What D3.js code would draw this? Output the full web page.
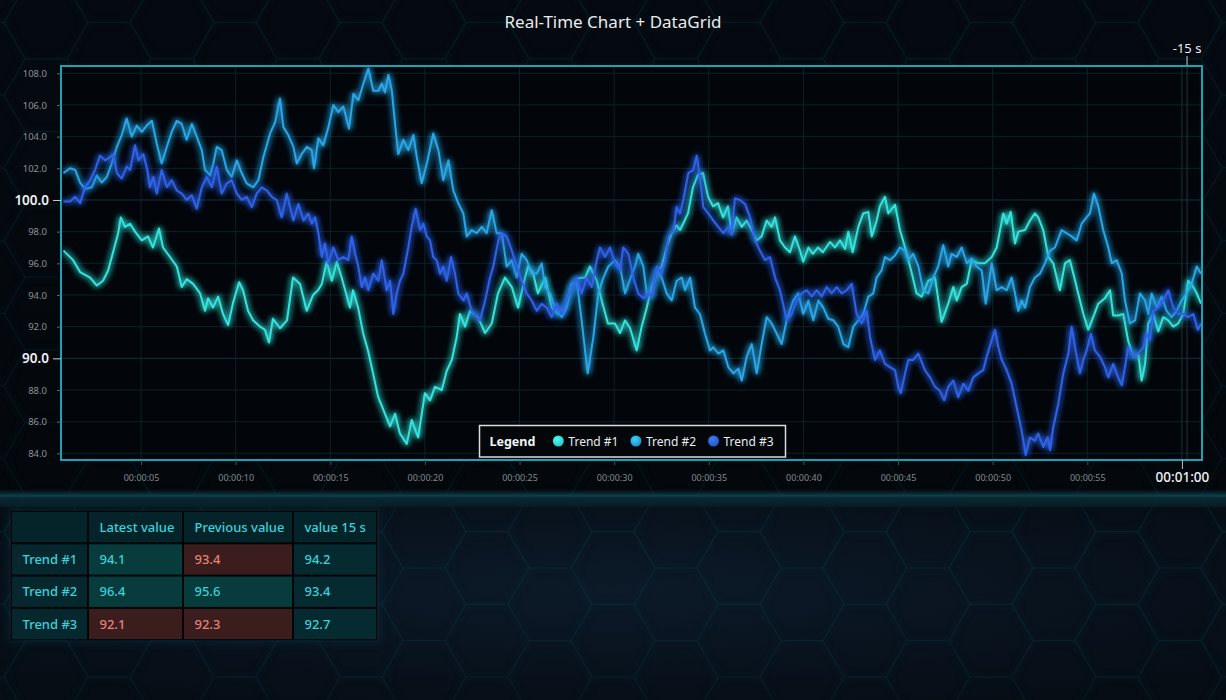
<!DOCTYPE html>
<html><head><meta charset="utf-8">
<script src="https://cdn.jsdelivr.net/npm/d3@7"></script>
<style>
html,body{margin:0;padding:0;background:#04080d;overflow:hidden;}
svg{display:block;font-family:"Noto Sans",sans-serif;}
</style></head><body>
<svg id="c" width="1226" height="700"></svg>
<script>
// ---------------- DATA ----------------
const chartTitle = "Real-Time Chart + DataGrid";
const seriesNames = ["Trend #1", "Trend #2", "Trend #3"];
const seriesColors = ["#36e3dd", "#2aa5e6", "#2f62e8"];
// [seconds, value]
const trend1 = [[0.90,96.8],[1.41,96.2],[1.78,95.45],[2.31,95.1],[2.66,94.6],[2.99,94.9],[3.26,95.55],[3.52,96.7],[3.79,97.9],[3.93,98.9],[4.15,98.3],[4.42,98.5],[4.68,98.0],[5.04,97.45],[5.37,97.7],[5.63,97.0],[5.95,98.2],[6.16,97.0],[6.53,96.4],[6.89,95.8],[7.15,94.5],[7.41,95.0],[7.75,94.7],[8.12,94.1],[8.38,93.0],[8.54,93.8],[8.80,93.2],[9.07,93.9],[9.33,92.8],[9.60,92.1],[9.86,93.5],[10.18,94.8],[10.39,94.3],[10.65,93.0],[10.92,92.4],[11.29,92.0],[11.55,91.8],[11.76,91.0],[11.97,92.5],[12.34,91.9],[12.71,92.4],[13.03,95.1],[13.40,94.7],[13.75,93.0],[14.09,94.0],[14.35,94.3],[14.55,94.7],[14.81,96.1],[15.08,94.9],[15.34,96.1],[15.60,95.1],[16.04,93.2],[16.20,94.3],[16.47,93.2],[16.73,91.6],[16.99,90.5],[17.26,89.05],[17.52,87.6],[17.89,86.5],[18.16,85.7],[18.42,86.5],[18.68,85.25],[19.04,84.6],[19.30,86.1],[19.64,85.0],[20.00,87.8],[20.27,87.35],[20.53,88.2],[20.89,88.0],[21.15,89.2],[21.42,89.9],[21.68,91.35],[21.85,92.8],[22.12,92.0],[22.38,93.0],[22.80,92.6],[23.18,91.6],[23.53,92.2],[23.86,94.1],[24.23,95.1],[24.59,94.5],[24.92,93.2],[25.29,95.1],[25.45,95.8],[25.71,95.4],[25.97,94.1],[26.35,95.1],[26.70,93.2],[27.03,92.8],[27.40,93.2],[27.76,94.7],[28.09,95.05],[28.46,95.1],[28.72,95.8],[29.08,94.9],[29.34,93.65],[29.67,92.2],[30.04,92.2],[30.31,91.6],[30.57,92.4],[30.84,91.9],[31.19,90.5],[31.45,92.0],[31.72,93.2],[31.98,94.5],[32.25,95.4],[32.51,95.8],[32.77,97.0],[33.04,97.9],[33.30,98.4],[33.48,98.1],[33.64,98.5],[33.90,99.15],[34.16,100.8],[34.43,101.6],[34.69,101.7],[34.96,100.2],[35.22,99.6],[35.49,99.8],[35.75,98.9],[36.01,99.6],[36.21,97.9],[36.47,98.9],[36.74,98.3],[37.00,98.7],[37.27,98.1],[37.53,97.45],[37.79,97.7],[38.06,98.7],[38.32,98.3],[38.50,98.9],[38.76,97.45],[39.03,97.0],[39.29,96.7],[39.55,97.7],[39.82,96.8],[39.99,96.1],[40.26,97.0],[40.50,96.6],[40.77,97.0],[41.03,96.7],[41.40,97.35],[41.67,97.0],[41.93,97.45],[42.20,96.9],[42.37,98.0],[42.60,96.7],[42.90,98.3],[43.16,99.15],[43.43,99.25],[43.61,97.7],[43.87,98.7],[44.04,99.6],[44.31,100.2],[44.48,99.15],[44.84,99.7],[45.10,98.1],[45.37,97.0],[45.72,95.4],[45.98,94.1],[46.25,93.9],[46.60,94.9],[46.95,95.1],[47.30,92.3],[47.65,93.45],[47.92,94.5],[48.10,93.65],[48.36,94.5],[48.63,94.7],[48.89,96.2],[49.24,96.0],[49.59,96.0],[49.95,96.4],[50.21,97.0],[50.56,99.15],[50.74,98.5],[50.95,99.25],[51.18,97.25],[51.35,98.0],[51.71,98.1],[51.97,98.7],[52.23,99.15],[52.41,98.9],[52.67,98.1],[52.94,96.4],[53.20,96.0],[53.55,94.3],[53.82,96.0],[54.08,96.2],[54.26,95.35],[54.52,94.1],[54.79,92.8],[55.05,91.8],[55.31,92.6],[55.58,93.45],[55.93,93.8],[56.20,94.3],[56.37,92.7],[56.63,92.7],[56.90,92.8],[57.16,91.1],[57.43,90.1],[57.69,90.3],[57.87,88.6],[58.05,89.65],[58.22,92.2],[58.48,92.8],[58.75,91.7],[59.01,92.6],[59.28,92.4],[59.54,92.0],[59.80,92.2],[60.07,92.8],[60.33,94.9],[60.60,94.5],[60.78,94.1],[61.01,93.45]];
const trend2 = [[0.90,101.7],[1.25,102.0],[1.52,101.9],[1.78,101.1],[2.04,100.7],[2.40,100.8],[2.66,101.55],[2.92,101.1],[3.19,101.45],[3.45,102.3],[3.72,103.35],[3.98,104.1],[4.24,105.15],[4.51,104.0],[4.77,104.7],[5.04,104.3],[5.30,104.7],[5.57,105.0],[5.83,103.55],[6.09,102.3],[6.36,103.35],[6.62,104.3],[6.89,105.0],[7.15,104.8],[7.41,103.8],[7.68,104.8],[7.94,104.0],[8.21,103.15],[8.38,101.9],[8.65,101.55],[8.82,102.3],[9.00,103.35],[9.26,103.15],[9.53,101.9],[9.79,101.45],[10.06,102.5],[10.32,101.7],[10.58,101.05],[10.93,100.8],[11.20,101.25],[11.46,102.7],[11.82,104.2],[12.08,104.9],[12.34,106.4],[12.52,104.6],[12.78,104.1],[13.05,103.35],[13.23,102.3],[13.49,102.9],[13.76,103.35],[14.02,103.15],[14.14,102.0],[14.37,103.9],[14.63,103.45],[14.90,104.6],[15.16,106.0],[15.42,105.55],[15.69,105.9],[15.99,104.5],[16.22,106.7],[16.48,106.3],[16.75,107.35],[17.01,108.3],[17.27,106.9],[17.54,106.9],[17.72,107.35],[17.89,106.8],[18.07,107.9],[18.25,106.9],[18.42,104.8],[18.59,102.9],[18.86,103.8],[19.12,103.15],[19.39,104.1],[19.57,102.7],[19.83,101.05],[20.10,102.3],[20.44,104.2],[20.71,103.15],[20.97,101.25],[21.24,102.5],[21.50,100.6],[21.76,99.8],[22.03,99.15],[22.21,97.7],[22.47,98.1],[22.74,97.9],[23.00,98.3],[23.26,97.9],[23.53,99.35],[23.79,97.9],[24.06,97.9],[24.32,95.8],[24.59,96.2],[24.85,95.1],[25.11,96.6],[25.38,96.2],[25.64,95.35],[25.91,95.35],[26.17,96.0],[26.35,94.5],[26.61,94.1],[26.87,93.2],[27.23,92.6],[27.49,93.2],[27.76,94.5],[28.02,94.9],[28.28,92.4],[28.60,89.05],[28.90,91.35],[29.16,94.1],[29.43,95.1],[29.69,95.8],[30.04,96.2],[30.31,95.8],[30.57,94.1],[30.84,95.0],[31.10,95.8],[31.27,96.6],[31.54,95.8],[31.72,94.1],[31.98,93.9],[32.25,95.55],[32.51,95.1],[32.77,94.1],[33.04,93.65],[33.30,94.9],[33.57,95.1],[33.74,94.3],[34.01,95.1],[34.27,93.2],[34.53,92.8],[34.80,91.55],[35.06,90.5],[35.24,90.7],[35.50,90.3],[35.77,90.5],[36.03,89.45],[36.30,89.05],[36.56,89.35],[36.74,88.6],[37.00,90.1],[37.27,90.9],[37.53,89.05],[37.79,90.9],[38.06,92.6],[38.32,92.2],[38.59,91.55],[38.85,90.9],[39.11,92.4],[39.46,93.65],[39.73,94.1],[39.99,92.8],[40.26,93.65],[40.52,92.4],[40.79,93.65],[41.05,93.2],[41.31,92.5],[41.58,92.4],[41.84,92.0],[42.11,90.9],[42.37,90.7],[42.63,92.0],[42.90,92.4],[43.16,92.8],[43.43,93.9],[43.69,94.1],[43.87,95.1],[44.13,95.55],[44.31,96.4],[44.57,96.2],[44.84,96.5],[45.10,97.0],[45.37,96.8],[45.54,96.2],[45.80,96.6],[46.07,95.8],[46.33,94.3],[46.60,94.1],[46.86,95.1],[47.12,95.8],[47.39,97.15],[47.65,95.8],[47.83,96.6],[48.10,96.4],[48.36,97.0],[48.63,96.0],[48.89,96.3],[49.15,95.8],[49.42,95.55],[49.63,93.45],[49.95,96.0],[50.21,94.3],[50.48,94.5],[50.74,94.3],[51.00,95.1],[51.18,94.1],[51.35,93.0],[51.53,93.65],[51.71,93.2],[51.97,94.5],[52.23,95.1],[52.50,95.35],[52.76,96.0],[53.03,96.8],[53.29,97.0],[53.64,98.1],[53.91,97.9],[54.17,97.7],[54.44,97.45],[54.70,98.5],[54.96,98.9],[55.14,99.15],[55.35,100.4],[55.58,99.6],[55.84,98.1],[56.11,97.0],[56.29,96.0],[56.55,96.2],[56.82,95.35],[56.99,93.65],[57.25,92.2],[57.52,92.4],[57.78,94.1],[58.05,93.65],[58.22,92.8],[58.40,94.1],[58.66,93.2],[58.93,93.9],[59.19,93.0],[59.46,92.6],[59.72,93.0],[59.98,93.65],[60.25,94.1],[60.51,94.7],[60.78,95.8],[61.01,95.35]];
const trend3 = [[0.90,99.9],[1.25,99.9],[1.52,100.2],[1.78,99.8],[2.04,100.8],[2.31,101.25],[2.57,101.9],[2.83,102.8],[3.10,102.5],[3.36,102.7],[3.54,102.9],[3.72,101.7],[3.98,101.35],[4.24,102.1],[4.42,101.9],[4.68,103.45],[4.86,102.5],[5.12,102.9],[5.33,101.9],[5.47,100.8],[5.65,101.45],[5.83,100.4],[6.09,101.9],[6.36,100.8],[6.62,101.25],[6.89,100.6],[7.15,100.4],[7.41,100.0],[7.68,100.3],[7.94,99.45],[8.21,100.8],[8.47,101.45],[8.74,100.8],[9.00,102.1],[9.26,100.4],[9.53,101.05],[9.79,101.25],[10.06,100.4],[10.32,100.0],[10.58,100.2],[10.85,99.55],[11.11,100.4],[11.38,100.8],[11.64,100.6],[11.91,100.2],[12.17,100.0],[12.43,98.9],[12.70,100.4],[12.87,99.55],[13.05,98.7],[13.31,99.75],[13.58,98.7],[13.84,99.15],[14.02,98.5],[14.20,98.9],[14.37,97.9],[14.55,96.4],[14.72,97.25],[14.90,96.0],[15.16,97.0],[15.42,96.2],[15.69,96.4],[15.95,96.2],[16.13,97.7],[16.31,96.6],[16.48,95.8],[16.66,94.5],[16.84,95.1],[17.01,94.3],[17.27,95.35],[17.54,94.9],[17.72,96.2],[17.98,94.3],[18.16,94.9],[18.33,92.8],[18.51,94.1],[18.68,94.9],[18.86,95.35],[19.12,97.0],[19.30,98.3],[19.51,99.45],[19.74,98.1],[19.92,98.5],[20.10,97.7],[20.27,97.45],[20.44,96.4],[20.62,96.2],[20.80,95.35],[20.97,95.8],[21.15,94.9],[21.38,96.4],[21.59,95.35],[21.76,94.1],[22.03,93.65],[22.21,94.1],[22.47,93.0],[22.74,92.6],[22.91,92.4],[23.18,93.65],[23.44,95.1],[23.61,95.8],[23.88,97.45],[24.06,97.9],[24.32,97.7],[24.59,96.8],[24.85,95.8],[25.11,94.9],[25.38,94.1],[25.64,93.65],[25.91,93.0],[26.17,93.45],[26.43,93.2],[26.70,92.6],[26.96,93.45],[27.23,92.8],[27.49,93.65],[27.76,94.5],[28.02,95.1],[28.28,94.1],[28.55,95.1],[28.81,94.5],[29.08,96.2],[29.25,97.0],[29.52,96.4],[29.78,97.0],[30.04,96.0],[30.31,95.55],[30.48,97.0],[30.75,96.6],[31.01,95.1],[31.27,94.1],[31.54,93.8],[31.81,94.1],[31.98,93.9],[32.25,95.8],[32.51,95.35],[32.69,96.2],[32.87,97.7],[33.13,98.1],[33.30,99.55],[33.48,99.15],[33.65,100.0],[33.92,101.7],[34.18,101.9],[34.36,102.8],[34.53,101.45],[34.71,99.55],[34.97,99.15],[35.24,98.7],[35.50,98.3],[35.77,97.9],[36.03,98.3],[36.21,97.8],[36.38,100.1],[36.65,100.0],[36.91,99.75],[37.18,98.9],[37.44,97.45],[37.70,96.8],[37.97,96.2],[38.23,96.4],[38.50,95.1],[38.76,94.3],[38.97,93.2],[39.11,92.4],[39.38,92.8],[39.64,93.65],[39.91,94.1],[40.17,94.3],[40.44,93.9],[40.70,94.3],[40.97,93.9],[41.23,94.5],[41.49,94.1],[41.76,94.5],[42.02,94.1],[42.29,94.3],[42.55,94.7],[42.81,92.8],[43.08,92.2],[43.34,93.0],[43.52,91.35],[43.78,89.9],[44.04,90.5],[44.31,89.65],[44.57,89.45],[44.84,89.25],[45.01,88.2],[45.14,87.8],[45.37,89.05],[45.54,89.9],[45.80,89.9],[46.07,90.3],[46.42,89.25],[46.69,88.8],[46.95,88.2],[47.21,87.95],[47.44,87.35],[47.65,88.2],[47.92,88.6],[48.18,87.55],[48.45,88.4],[48.71,87.95],[48.97,88.8],[49.24,89.05],[49.50,89.25],[49.68,90.1],[49.95,91.15],[50.12,91.8],[50.30,90.7],[50.48,89.9],[50.74,89.25],[51.00,88.4],[51.27,86.9],[51.53,85.45],[51.74,83.9],[51.97,85.0],[52.23,84.8],[52.41,85.25],[52.67,84.4],[52.90,85.0],[53.03,84.2],[53.20,85.65],[53.47,87.15],[53.73,89.05],[54.00,90.3],[54.17,92.0],[54.35,90.7],[54.61,89.05],[54.79,89.9],[54.96,90.5],[55.19,91.55],[55.40,90.5],[55.67,90.1],[55.93,89.45],[56.11,88.8],[56.37,89.65],[56.63,88.8],[56.82,88.3],[56.99,89.45],[57.16,90.7],[57.43,90.1],[57.69,90.3],[57.96,90.7],[58.13,91.55],[58.31,91.15],[58.48,93.0],[58.75,93.2],[59.01,93.65],[59.28,94.3],[59.54,93.2],[59.80,92.8],[60.07,92.8],[60.33,92.6],[60.60,92.8],[60.84,91.8],[61.01,92.2]];

const xDomain = [0.77, 61.06];          // seconds visible
const yDomain = [83.58, 108.46];
const yTickValues = [84,86,88,90,92,94,96,98,100,102,104,106,108];
const yMajorTicks = [90, 100];
const xTickValues = [5,10,15,20,25,30,35,40,45,50,55,60];
const xMajorTicks = [60];
const markerTime = 60.27;
const markerLabel = "-15 s";

const tableHeaders = ["", "Latest value", "Previous value", "value 15 s"];
const latestValues = [94.1, 96.4, 92.1];
const previousValues = [93.4, 95.6, 92.3];
const value15s = [94.2, 93.4, 92.7];
const latestUp = [true, true, false];
const previousUp = [false, true, false];

// ---------------- DRAW ----------------
const W = 1226, H = 700;
const svg = d3.select("#c");
const defs = svg.append("defs");

// background gradients
const bgTop = defs.append("linearGradient").attr("id","bgTop").attr("x1",0).attr("y1",0).attr("x2",0).attr("y2",1);
bgTop.append("stop").attr("offset","0%").attr("stop-color","#050a10");
bgTop.append("stop").attr("offset","100%").attr("stop-color","#03070b");
const bgBot = defs.append("radialGradient").attr("id","bgBot").attr("cx","50%").attr("cy","45%").attr("r","65%");
bgBot.append("stop").attr("offset","0%").attr("stop-color","#0c1a29");
bgBot.append("stop").attr("offset","100%").attr("stop-color","#060d15");
const band = defs.append("linearGradient").attr("id","band").attr("x1",0).attr("y1",0).attr("x2",0).attr("y2",1);
band.append("stop").attr("offset","0%").attr("stop-color","#0a2a33").attr("stop-opacity",0);
band.append("stop").attr("offset","30%").attr("stop-color","#0e3c47").attr("stop-opacity",0.9);
band.append("stop").attr("offset","45%").attr("stop-color","#0a2c36").attr("stop-opacity",0.9);
band.append("stop").attr("offset","85%").attr("stop-color","#082129").attr("stop-opacity",0.8);
band.append("stop").attr("offset","100%").attr("stop-color","#061018").attr("stop-opacity",0);

const glow = defs.append("filter").attr("id","glow").attr("x","-5%").attr("y","-5%").attr("width","110%").attr("height","110%");
glow.append("feGaussianBlur").attr("in","SourceGraphic").attr("stdDeviation",3).attr("result","b");
const gm = glow.append("feMerge");
gm.append("feMergeNode").attr("in","b");
gm.append("feMergeNode").attr("in","b");
gm.append("feMergeNode").attr("in","SourceGraphic");

const softGlow = defs.append("filter").attr("id","soft").attr("x","-20%").attr("y","-20%").attr("width","140%").attr("height","140%");
softGlow.append("feGaussianBlur").attr("stdDeviation",4);

svg.append("rect").attr("width",W).attr("height",H).attr("fill","url(#bgTop)");
svg.append("rect").attr("y",500).attr("width",W).attr("height",H-500).attr("fill","url(#bgBot)");

// hexagon pattern
const hs = 42, hh = hs*Math.sqrt(3);
let hexD = "";
for (let k=-12;k<=10;k++){
  for (let j=-9;j<=3;j++){
    const cx = 613 + 1.5*hs*k;
    const cy = 568 + hh*j + (Math.abs(k)%2===1 ? -hh/2 : 0);
    const pts = d3.range(6).map(i=>[cx+hs*Math.cos(i*Math.PI/3), cy+hs*Math.sin(i*Math.PI/3)]);
    hexD += "M"+pts.map(p=>p[0].toFixed(1)+","+p[1].toFixed(1)).join("L")+"Z";
  }
}
const hexMaskGrad = defs.append("linearGradient").attr("id","hexFade").attr("x1",0).attr("y1",0).attr("x2",0).attr("y2",1);
hexMaskGrad.append("stop").attr("offset","0%").attr("stop-color","#fff").attr("stop-opacity",0.45);
hexMaskGrad.append("stop").attr("offset","68%").attr("stop-color","#fff").attr("stop-opacity",0.3);
hexMaskGrad.append("stop").attr("offset","78%").attr("stop-color","#fff").attr("stop-opacity",0.6);
hexMaskGrad.append("stop").attr("offset","100%").attr("stop-color","#fff").attr("stop-opacity",0.35);
const hexMask = defs.append("mask").attr("id","hexMask");
hexMask.append("rect").attr("width",W).attr("height",H).attr("fill","url(#hexFade)");
const hexG = svg.append("g").attr("mask","url(#hexMask)");
hexG.append("path").attr("d",hexD).attr("fill","none").attr("stroke","#12424f").attr("stroke-width",1.2).attr("opacity",0.6);
hexG.append("path").attr("d",hexD).attr("fill","none").attr("stroke","#0f3a46").attr("stroke-width",4).attr("opacity",0.2).attr("filter","url(#soft)");

// separator band
svg.append("rect").attr("x",0).attr("y",489).attr("width",W).attr("height",20).attr("fill","url(#band)");
svg.append("line").attr("x1",0).attr("x2",W).attr("y1",496).attr("y2",496).attr("stroke","#12505c").attr("stroke-width",1.2).attr("opacity",0.7);

// title
svg.append("text").attr("x",613).attr("y",28).attr("text-anchor","middle")
  .attr("fill","#e6ecef").attr("font-size",17).text(chartTitle);

// plot area
const PL = 61, PR = 1202, PT = 66, PB = 460;
const x = d3.scaleLinear().domain(xDomain).range([PL, PR]);
const y = d3.scaleLinear().domain(yDomain).range([PB, PT]);

svg.append("rect").attr("x",PL).attr("y",PT).attr("width",PR-PL).attr("height",PB-PT).attr("fill","#020509");

// grid
const grid = svg.append("g");
grid.selectAll("line.h").data(yTickValues).join("line")
  .attr("x1",PL).attr("x2",PR).attr("y1",d=>y(d)).attr("y2",d=>y(d))
  .attr("stroke",d=>yMajorTicks.includes(d)?"#173038":"#0e2127").attr("stroke-width",1);
grid.selectAll("line.v").data(xTickValues).join("line")
  .attr("y1",PT).attr("y2",PB).attr("x1",d=>x(d)).attr("x2",d=>x(d))
  .attr("stroke",d=>xMajorTicks.includes(d)?"#1c3036":"#0e2127").attr("stroke-width",1);
// marker line
svg.append("line").attr("x1",x(markerTime)).attr("x2",x(markerTime)).attr("y1",PT).attr("y2",PB)
  .attr("stroke","#24363c").attr("stroke-width",1);

// series
const clip = defs.append("clipPath").attr("id","plotClip");
clip.append("rect").attr("x",PL).attr("y",PT).attr("width",PR-PL).attr("height",PB-PT);
const line = d3.line().x(d=>x(d[0])).y(d=>y(d[1]));
const gLines = svg.append("g").attr("clip-path","url(#plotClip)");
[trend1, trend2, trend3].forEach((data,i)=>{
  gLines.append("path").datum(data).attr("d",line).attr("fill","none")
    .attr("stroke",seriesColors[i]).attr("stroke-width",2).attr("stroke-linejoin","round")
    .attr("filter","url(#glow)");
});

// frame
svg.append("rect").attr("x",PL).attr("y",PT).attr("width",PR-PL).attr("height",PB-PT)
  .attr("fill","none").attr("stroke","#17a4b6").attr("stroke-width",2);

// y axis
const yAxis = svg.append("g").attr("transform",`translate(${PL},0)`)
  .call(d3.axisLeft(y).tickValues(yTickValues).tickFormat(d3.format(".1f")).tickSize(4).tickPadding(10));
yAxis.select(".domain").remove();
yAxis.selectAll(".tick line").attr("stroke","#5d6b70");
yAxis.selectAll(".tick text").attr("fill","#8a9396").attr("font-size",9.5).attr("font-family","Noto Sans");
yAxis.selectAll(".tick").filter(d=>yMajorTicks.includes(d)).each(function(){
  const t = d3.select(this);
  t.select("line").attr("x2",-8).attr("stroke","#c8d0d3");
  t.select("text").attr("x",-12).attr("fill","#eef2f4").attr("font-size",13.5).attr("font-weight",600);
});

// x axis
const fmtTime = s => { const h=Math.floor(s/3600), m=Math.floor(s/60)%60, sec=Math.round(s%60);
  return [h,m,sec].map(v=>String(v).padStart(2,"0")).join(":"); };
const xAxis = svg.append("g").attr("transform",`translate(0,${PB})`)
  .call(d3.axisBottom(x).tickValues(xTickValues).tickFormat(fmtTime).tickSize(5).tickPadding(10));
xAxis.select(".domain").remove();
xAxis.selectAll(".tick line").attr("stroke","#3f5258");
xAxis.selectAll(".tick text").attr("fill","#7f898c").attr("font-size",9).attr("font-family","Noto Sans");
xAxis.selectAll(".tick").filter(d=>xMajorTicks.includes(d)).each(function(){
  const t = d3.select(this);
  t.select("line").attr("y2",9).attr("stroke","#b9c3c6");
  t.select("text").attr("y",12).attr("fill","#eef2f4").attr("font-size",13.5).attr("font-weight",500);
});

// -15 s marker label
svg.append("line").attr("x1",x(markerTime)).attr("x2",x(markerTime)).attr("y1",56).attr("y2",PT-1)
  .attr("stroke","#c9d1d4").attr("stroke-width",1);
svg.append("text").attr("x",x(markerTime)).attr("y",53).attr("text-anchor","middle")
  .attr("fill","#e6ecef").attr("font-size",13).text(markerLabel);

// legend
const lg = svg.append("g");
lg.append("rect").attr("x",479.5).attr("y",425.5).attr("width",306).attr("height",31.5)
  .attr("fill","#03070a").attr("stroke","#d7dde0").attr("stroke-width",1.5);
let lx = 489.5;
const lt = lg.append("text").attr("x",lx).attr("y",445.5).attr("fill","#f2f5f6").attr("font-size",12.5)
  .attr("font-weight",700).text("Legend");
lx += lt.node().getComputedTextLength() + 23;
seriesNames.forEach((n,i)=>{
  const gr = defs.append("radialGradient").attr("id","lgGrad"+i).attr("cx","40%").attr("cy","35%").attr("r","65%");
  gr.append("stop").attr("offset","0%").attr("stop-color",d3.color(seriesColors[i]).brighter(0.7));
  gr.append("stop").attr("offset","100%").attr("stop-color",d3.color(seriesColors[i]).darker(0.4));
  lg.append("circle").attr("cx",lx).attr("cy",441).attr("r",5.5).attr("fill",`url(#lgGrad${i})`);
  const tx = lg.append("text").attr("x",lx+10).attr("y",445.5).attr("fill","#e6ecef").attr("font-size",12).text(n);
  lx += 10 + tx.node().getComputedTextLength() + 17.5;
});

// data grid
const colW = [77, 95, 110, 84];
const colX = [11];
colW.forEach((w,i)=>colX.push(colX[i]+w));
const rowH = 32.3, tY = 511;
const gt = svg.append("g");
gt.append("rect").attr("x",colX[0]-3).attr("y",tY-3).attr("width",colX[4]-colX[0]+6).attr("height",rowH*4+6)
  .attr("fill","#0f3a46").attr("opacity",0.35).attr("filter","url(#soft)");
gt.append("rect").attr("x",colX[0]).attr("y",tY).attr("width",colX[4]-colX[0]).attr("height",rowH*4)
  .attr("fill","#010507");
const cells = [];
tableHeaders.forEach((h,c)=>cells.push({r:0,c,text:h,kind:"head"}));
seriesNames.forEach((n,r)=>{
  cells.push({r:r+1,c:0,text:n,kind:"name"});
  cells.push({r:r+1,c:1,text:latestValues[r].toFixed(1),kind:latestUp[r]?"up":"down"});
  cells.push({r:r+1,c:2,text:previousValues[r].toFixed(1),kind:previousUp[r]?"up":"down"});
  cells.push({r:r+1,c:3,text:value15s[r].toFixed(1),kind:"plain"});
});
const fillFor = {head:"#05242a", name:"#05272d", plain:"#052a30", up:"#083b3b", down:"#3a1d1c"};
const cg = gt.selectAll("g.cell").data(cells).join("g");
cg.append("rect").attr("x",d=>colX[d.c]+1).attr("y",d=>tY+d.r*rowH+1)
  .attr("width",d=>colW[d.c]-2).attr("height",rowH-2).attr("fill",d=>fillFor[d.kind]);
cg.append("text").attr("x",d=>colX[d.c]+11.5).attr("y",d=>tY+d.r*rowH+rowH/2+4.5)
  .attr("fill",d=>d.kind==="down"?"#e3837b":"#37d3dc").attr("font-size",13).attr("font-weight",500).text(d=>d.text);
</script>
</body></html>
